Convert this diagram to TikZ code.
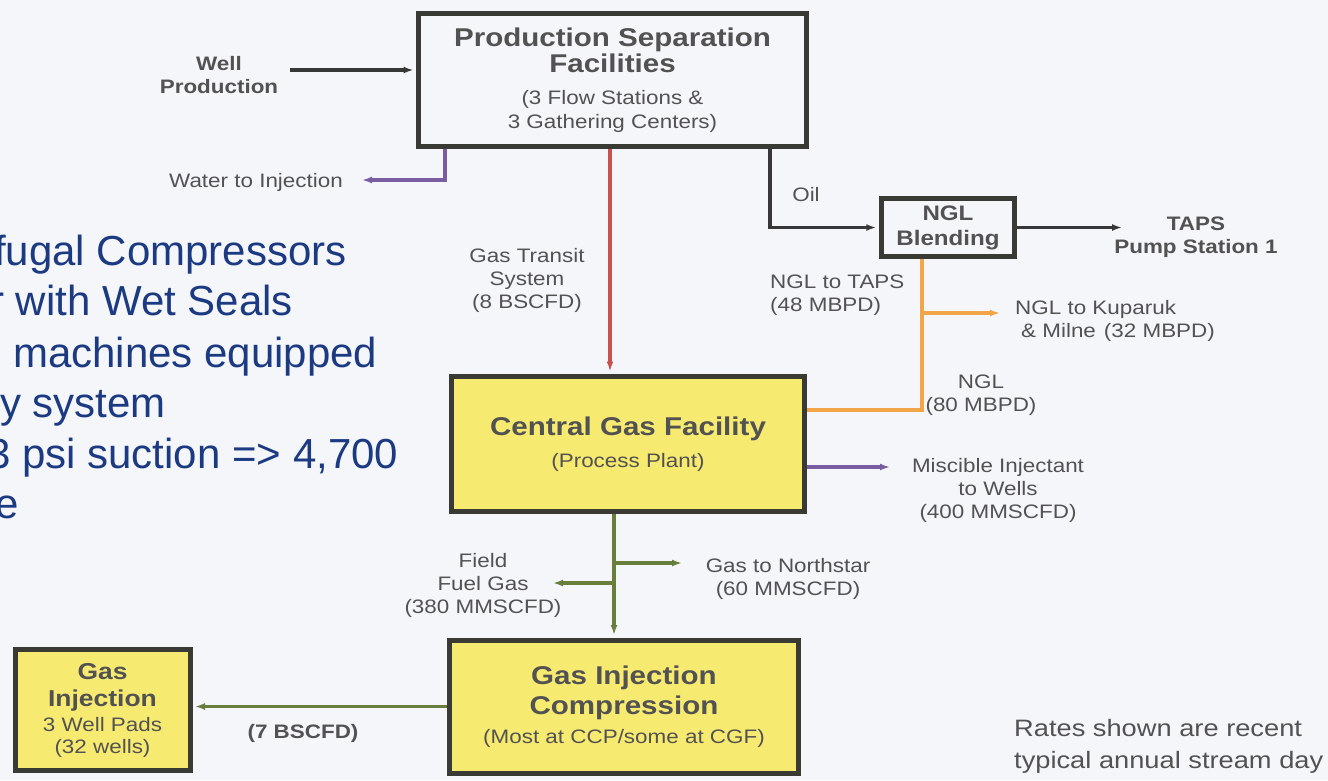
\documentclass[tikz,border=0pt]{standalone}
\usepackage{fontspec}
\setmainfont{Liberation Sans}
\newfontfamily\diagfont[FakeStretch=1.15]{Liberation Sans}
\usetikzlibrary{arrows.meta}

\definecolor{bgcol}{RGB}{244,246,250}
\definecolor{textgray}{RGB}{82,82,82}
\definecolor{boxgray}{RGB}{58,58,52}
\definecolor{boxyellow}{RGB}{247,234,112}
\definecolor{pipeblack}{RGB}{55,55,55}
\definecolor{pipered}{RGB}{200,82,78}
\definecolor{pipepurple}{RGB}{122,92,160}
\definecolor{pipeorange}{RGB}{243,166,72}
\definecolor{pipegreen}{RGB}{104,126,60}
\definecolor{slideblue}{RGB}{28,58,130}

\newcommand{\lblfont}{\diagfont\mdseries\fontsize{19.5}{23}\selectfont}
\newcommand{\ttlfont}{\diagfont\bfseries\fontsize{25.7}{26}\selectfont}
\newcommand{\ratesfont}{\diagfont\mdseries\fontsize{23.7}{32}\selectfont}
\newcommand{\notefont}{\fontsize{42}{50}\selectfont}

\tikzset{
    plant/.style={draw=boxgray, line width=5pt, align=center, inner sep=0pt, text=textgray, font=\ttlfont},
    yellowbox/.style={plant, fill=boxyellow},
    lbl/.style={font=\lblfont, text=textgray, align=center, inner sep=0pt},
    blbl/.style={lbl, font=\lblfont\bfseries},
    pipe/.style={line width=3.5pt},
    flow/.style={pipe, -{Latex[length=10pt,width=7pt]}},
    note/.style={font=\notefont, text=slideblue, anchor=base west, inner sep=0pt},
}

\begin{document}
\begin{tikzpicture}[x=1pt, y=-1pt]
    \useasboundingbox (0,0) rectangle (1328,780);
    \clip (0,0) rectangle (1328,780);
    \fill[bgcol] (0,0) rectangle (1328,780);

    % Slide notes, cut off at the left edge
    \foreach \x/\y/\t [count=\i] in {-6/265/{fugal Compressors}, -10/315/{r with Wet Seals}, 13/367/{machines equipped}, 0/417/{y system}, -13/468/{3 psi suction => 4,700}, -5/518/{e}}{
        \node[note] (note\i) at (\x,\y) {\t};
    }

    % Plants
    \node[plant, minimum width=388pt, minimum height=133.5pt] (psf) at (612.5,80)
        {Production Separation\\Facilities\\[6pt]{\lblfont (3 Flow Stations \&}\\[-2pt]{\lblfont 3 Gathering Centers)}};
    \node[plant, minimum width=133.5pt, minimum height=58pt, font=\diagfont\bfseries\fontsize{21}{25}\selectfont] (ngl) at (948,227.5)
        {NGL\\Blending};
    \node[yellowbox, minimum width=353.5pt, minimum height=135pt] (cgf) at (628,444)
        {Central Gas Facility\\[6pt]{\lblfont (Process Plant)}};
    \node[yellowbox, minimum width=348.5pt, minimum height=133pt] (gic) at (624,706.5)
        {Gas Injection\\[4pt]Compression\\[3pt]{\lblfont (Most at CCP/some at CGF)}};
    \node[yellowbox, minimum width=175pt, minimum height=120.5pt, font=\diagfont\bfseries\fontsize{23}{27}\selectfont] (gasinj) at (102.5,710)
        {Gas\\Injection\\[-2pt]{\lblfont 3 Well Pads}\\[-5pt]{\lblfont (32 wells)}};

    % Stream labels
    \node[blbl] (wellprod) at (219,75) {Well\\Production};
    \node[lbl] (water) at (256,182) {Water to Injection};
    \node[lbl] (transit) at (527,280) {Gas Transit\\System\\(8 BSCFD)};
    \node[lbl] (oil) at (806,195) {Oil};
    \node[blbl] (taps) at (1196,237) {TAPS\\Pump Station 1};
    \node[lbl, align=left, anchor=west] (ngltaps) at (770,295) {NGL to TAPS\\(48 MBPD)};
    \node[lbl, align=left, anchor=west] (kuparuk) at (1015,321) {NGL to Kuparuk\\\hspace*{6pt}\& Milne\hspace*{8pt}(32 MBPD)};
    \node[lbl] (nglcgf) at (981,395) {NGL\\(80 MBPD)};
    \node[lbl] (miscible) at (998,490) {Miscible Injectant\\to Wells\\(400 MMSCFD)};
    \node[lbl] (fuel) at (483,585) {Field\\Fuel Gas\\(380 MMSCFD)};
    \node[lbl] (northstar) at (788,579) {Gas to Northstar\\(60 MMSCFD)};
    \node[blbl] (bscfd) at (303,733) {(7 BSCFD)};
    \node[lbl, font=\ratesfont, align=left, anchor=west] (rates) at (1014,746) {Rates shown are recent\\typical annual stream day};

    % Bends and free ends of the lines
    \coordinate (wellin) at (290,70);
    \coordinate (waterbend) at (445,180);
    \coordinate (waterout) at (362,180);
    \coordinate (transitline) at (610,260);
    \coordinate (oilbend) at (770,227.5);
    \coordinate (tapsin) at (1122,227.5);
    \coordinate (nglbend) at (922,410);
    \coordinate (nglsplit) at (922,313);
    \coordinate (kuparukin) at (1000,313);
    \coordinate (miscin) at (890,467);
    \coordinate (gastrunk) at (614,560);
    \coordinate (northout) at (682,563);
    \coordinate (fuelout) at (553,583);

    % Streams
    \draw[flow, pipeblack, shorten >=2.5pt] (wellin) -- (wellin -| psf.west);
    \draw[flow, pipepurple] (psf.south -| waterbend) -- (waterbend) -- (waterout);
    \draw[flow, pipered, shorten >=2.5pt] (psf.south -| transitline) -- (cgf.north -| transitline);
    \draw[flow, pipeblack, shorten >=2.5pt] (psf.south -| oilbend) -- (oilbend) -- (ngl.west);
    \draw[flow, pipeblack] (ngl.east) -- (tapsin);
    \draw[pipe, pipeorange] (ngl.south -| nglbend) -- (nglbend) -- (cgf.east |- nglbend);
    \draw[flow, pipeorange] (nglsplit) -- (kuparukin);
    \draw[flow, pipepurple] (cgf.east |- miscin) -- (miscin);
    \draw[flow, pipegreen, shorten >=2.5pt] (cgf.south -| gastrunk) -- (gic.north -| gastrunk);
    \draw[flow, pipegreen] (gastrunk |- northout) -- (northout);
    \draw[flow, pipegreen] (gastrunk |- fuelout) -- (fuelout);
    \draw[flow, pipegreen, shorten >=2.5pt] (gic.west) -- (gasinj.east |- gic.west);
\end{tikzpicture}
\end{document}
